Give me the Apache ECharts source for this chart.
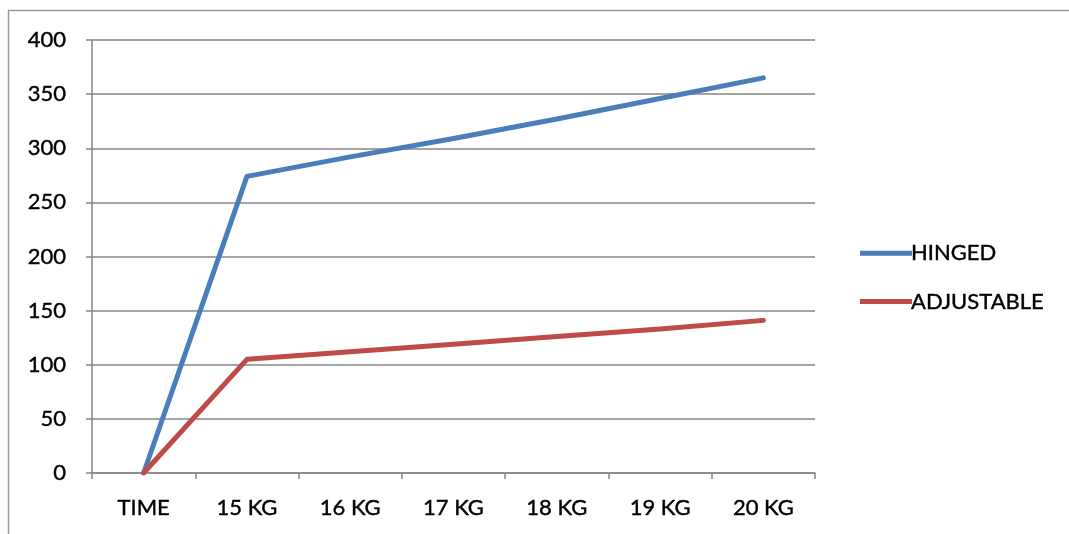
<!DOCTYPE html>
<html>
<head>
<meta charset="utf-8">
<script src="https://cdn.jsdelivr.net/npm/echarts@6/dist/echarts.min.js"></script>
<style>
html,body{margin:0;padding:0;background:#fff;}
#c{width:1069px;height:534px;}
</style>
</head>
<body>
<div id="c"></div>
<script>
var categories = ['TIME', '15 KG', '16 KG', '17 KG', '18 KG', '19 KG', '20 KG'];
var hinged = [0, 274, 292, 309, 327, 346, 365];
var adjustable = [0, 105, 112, 119, 126, 133, 141];
var seriesNames = ['HINGED', 'ADJUSTABLE'];

var chart = echarts.init(document.getElementById('c'), null, {renderer: 'canvas'});
var font = 'Lato';
var txt = {fontFamily: font, fontSize: 22, color: '#000', textBorderColor: '#000', textBorderWidth: 0.4};
chart.setOption({
  animation: false,
  backgroundColor: '#fff',
  graphic: [
    {type: 'line', shape: {x1: 8, y1: 10.5, x2: 1069, y2: 10.5}, style: {stroke: '#9a9a9a', lineWidth: 1.5}},
    {type: 'line', shape: {x1: 8.5, y1: 10, x2: 8.5, y2: 534}, style: {stroke: '#9a9a9a', lineWidth: 1.5}}
  ],
  grid: {left: 92, right: 254, top: 40, bottom: 61},
  legend: {
    orient: 'vertical',
    left: 855, top: 237,
    itemWidth: 52, itemHeight: 5, itemGap: 26,
    icon: 'rect',
    textStyle: Object.assign({padding: [0, 0, 0, -6]}, txt),
    data: seriesNames
  },
  xAxis: {
    type: 'category',
    data: categories,
    boundaryGap: true,
    axisLine: {lineStyle: {color: '#868686', width: 1.5}},
    axisTick: {show: true, length: 6, lineStyle: {color: '#868686', width: 1.5}},
    axisLabel: Object.assign({margin: 24}, txt)
  },
  yAxis: {
    type: 'value',
    min: 0, max: 400, interval: 50,
    axisLine: {show: true, lineStyle: {color: '#868686', width: 1.5}},
    axisTick: {show: true, length: 6, lineStyle: {color: '#868686', width: 1.5}},
    splitLine: {lineStyle: {color: '#868686', width: 1.5}},
    axisLabel: Object.assign({margin: 26}, txt)
  },
  series: [
    {name: seriesNames[0], type: 'line', data: hinged, symbol: 'none',
     lineStyle: {color: '#4a7ebb', width: 5, cap: 'round', join: 'round'}, itemStyle: {color: '#4a7ebb'}},
    {name: seriesNames[1], type: 'line', data: adjustable, symbol: 'none',
     lineStyle: {color: '#be4b48', width: 5, cap: 'round', join: 'round'}, itemStyle: {color: '#be4b48'}}
  ]
});
</script>
</body>
</html>
